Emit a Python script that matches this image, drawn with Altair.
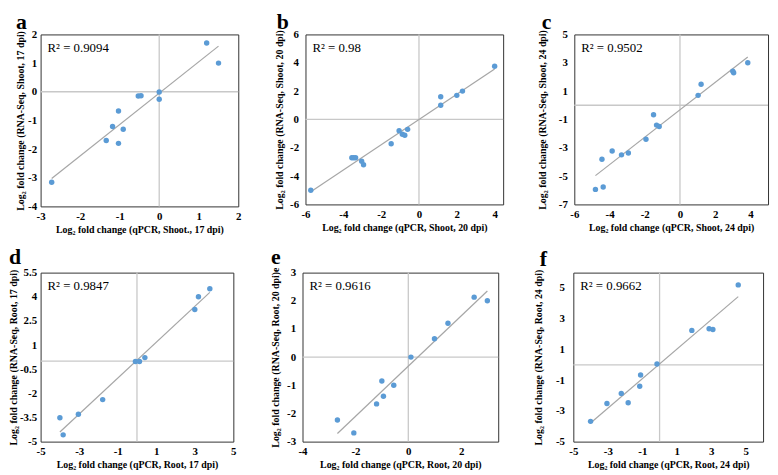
import altair as alt
import pandas as pd

SERIF = "Liberation Serif"

# ---------------- data ----------------
a_x = [1.2, 1.5, -0.53, -0.46, 0.0, 0.0, -1.03, -1.18, -0.91, -1.34, -1.03, -2.72]
a_y = [1.7, 1.0, -0.15, -0.14, -0.01, -0.26, -0.67, -1.21, -1.31, -1.70, -1.80, -3.16]

b_x = [4.0, 2.3, 2.0, 1.15, 1.15, -0.6, -1.05, -0.88, -0.75, -1.47, -3.55, -3.45, -3.35, -3.03, -2.93, -5.72]
b_y = [3.75, 2.0, 1.7, 1.6, 1.0, -0.7, -0.8, -1.05, -1.12, -1.72, -2.7, -2.7, -2.7, -2.95, -3.2, -5.0]

c_x = [3.85, 3.0, 3.05, 1.2, 1.03, -1.5, -1.33, -1.18, -1.93, -3.85, -3.32, -2.93, -4.43, -4.8, -4.36]
c_y = [3.0, 2.4, 2.3, 1.48, 0.7, -0.67, -1.4, -1.5, -2.4, -3.23, -3.5, -3.37, -3.81, -5.94, -5.77]

d_x = [3.78, 3.19, 3.0, 0.41, -0.08, 0.13, -1.78, -3.04, -4.0, -3.83]
d_y = [4.5, 4.0, 3.21, 0.22, -0.02, -0.02, -2.39, -3.3, -3.52, -4.58]

e_x = [2.49, 2.99, 1.5, 0.99, 0.1, -1.0, -0.55, -0.94, -1.2, -2.68, -2.06]
e_y = [2.13, 2.0, 1.2, 0.65, 0.0, -0.85, -1.0, -1.39, -1.66, -2.23, -2.69]

f_x = [4.56, 2.87, 3.09, 1.87, -0.15, -1.1, -1.15, -2.22, -1.82, -3.05, -4.0]
f_y = [5.2, 2.35, 2.3, 2.24, 0.05, -0.66, -1.4, -1.86, -2.47, -2.52, -3.68]

letters = ["a", "b", "c", "d", "e", "f"]
r2_labels = ["R² = 0.9094", "R² = 0.98", "R² = 0.9502", "R² = 0.9847", "R² = 0.9616", "R² = 0.9662"]

x_titles = [
    "Log₂ fold change (qPCR, Shoot., 17 dpi)",
    "Log₂ fold change (qPCR, Shoot, 20 dpi)",
    "Log₂ fold change (qPCR, Shoot, 24 dpi)",
    "Log₂ fold change (qPCR, Root, 17 dpi)",
    "Log₂ fold change (qPCR, Root, 20 dpi)",
    "Log₂ fold change (qPCR, Root, 24 dpi)",
]
y_titles = [
    "Log₂ fold change (RNA-Seq, Shoot, 17 dpi)",
    "Log₂ fold change (RNA-Seq, Shoot, 20 dpi)",
    "Log₂ fold change (RNA-Seq, Shoot, 24 dpi)",
    "Log₂ fold change (RNA-Seq, Root, 17 dpi)",
    "Log₂ fold change (RNA-Seq, Root, 20 dpi)e",
    "Log₂ fold change (RNA-Seq, Root, 24 dpi)",
]

x_domains = [[-3, 2], [-6, 4.45], [-6, 5], [-5, 5], [-4, 3.4], [-5, 6]]
y_domains = [[-4, 2], [-6, 6], [-7, 5], [-5, 5.5], [-3, 3], [-5, 6]]
x_ticks = [
    [-3, -2, -1, 0, 1, 2],
    [-6, -4, -2, 0, 2, 4],
    [-6, -4, -2, 0, 2, 4],
    [-5, -3, -1, 1, 3, 5],
    [-4, -2, 0, 2],
    [-5, -3, -1, 1, 3, 5],
]
y_ticks = [
    [-4, -3, -2, -1, 0, 1, 2],
    [-6, -4, -2, 0, 2, 4, 6],
    [-7, -5, -3, -1, 1, 3, 5],
    [-5, -3.5, -2, -0.5, 1, 2.5, 4, 5.5],
    [-3, -2, -1, 0, 1, 2, 3],
    [-5, -3, -1, 1, 3, 5],
]

xs_all = [a_x, b_x, c_x, d_x, e_x, f_x]
ys_all = [a_y, b_y, c_y, d_y, e_y, f_y]

# layout tweaks per panel
widths = [200, 200, 196, 195, 198, 192]
heights = [174, 172, 172, 171, 171, 171]
title_offset = [-6, -6, -6, -2, -2, -2]
y_label_pad = [4, 7, 7, 4, 7, 9]
y_extent = [14, 19, 18, 22, 18, 20]
y_title_pad = [1, 2, 9, 0, 4, 10]
title_dx = [0, 2, 4, 0, 0, 6]


def panel(i):
    df = pd.DataFrame({"x": xs_all[i], "y": ys_all[i]})
    xs = alt.Scale(domain=x_domains[i], nice=False, zero=False)
    ys = alt.Scale(domain=y_domains[i], nice=False, zero=False)
    xax = alt.Axis(
        values=x_ticks[i], grid=False, ticks=False, domain=False,
        labelExpr="'' + datum.value", labelPadding=4,
        labelOverlap=False, labelFlush=False,
        labelFont=SERIF, labelFontSize=11, labelFontWeight="bold", labelColor="#000",
        title=x_titles[i], titleFont=SERIF, titleFontSize=10, titleFontWeight="bold",
        titleColor="#000", titlePadding=3,
    )
    yax = alt.Axis(
        values=y_ticks[i], grid=False, ticks=False, domain=False,
        labelExpr="'' + datum.value", labelPadding=y_label_pad[i],
        labelOverlap=False, labelFlush=False,
        minExtent=y_extent[i], maxExtent=y_extent[i],
        labelFont=SERIF, labelFontSize=11, labelFontWeight="bold", labelColor="#000",
        title=y_titles[i], titleFont=SERIF, titleFontSize=10, titleFontWeight="bold",
        titleColor="#000", titlePadding=y_title_pad[i],
    )
    X = lambda f: alt.X(f, scale=xs, axis=xax)
    Y = lambda f: alt.Y(f, scale=ys, axis=yax)
    base = alt.Chart(df)
    pts = base.mark_circle(size=30, color="#5b9bd5", opacity=1).encode(
        x=X("x:Q"), y=Y("y:Q")
    )
    fit = base.transform_regression("x", "y").mark_line(
        color="#a6a6a6", strokeWidth=1.2
    ).encode(x=X("x:Q"), y=Y("y:Q"))
    zero = pd.DataFrame({"z": [0]})
    vrule = alt.Chart(zero).mark_rule(color="#c8c8c8", strokeWidth=1.3).encode(x=X("z:Q"))
    hrule = alt.Chart(zero).mark_rule(color="#c8c8c8", strokeWidth=1.3).encode(y=Y("z:Q"))
    txt = alt.Chart(pd.DataFrame({"t": [r2_labels[i]]})).mark_text(
        align="left", baseline="middle", font=SERIF, fontSize=13, color="#000"
    ).encode(x=alt.value(7), y=alt.value(14), text="t:N")
    return alt.layer(vrule, hrule, fit, pts, txt).properties(
        width=widths[i], height=heights[i],
        title=alt.TitleParams(
            letters[i], anchor="start", font=SERIF, fontSize=22, fontWeight="bold",
            color="#000", offset=title_offset[i], dx=title_dx[i],
        ),
    )


row1 = alt.hconcat(panel(0), panel(1), panel(2), spacing=32)
row2 = alt.hconcat(panel(3), panel(4), panel(5), spacing=33)
chart = alt.vconcat(row1, row2, spacing=10).configure_view(
    stroke="#333", strokeWidth=1
).properties(padding=0, background="white")

chart.save("out.html", embed_options={"renderer": "svg", "actions": False})
